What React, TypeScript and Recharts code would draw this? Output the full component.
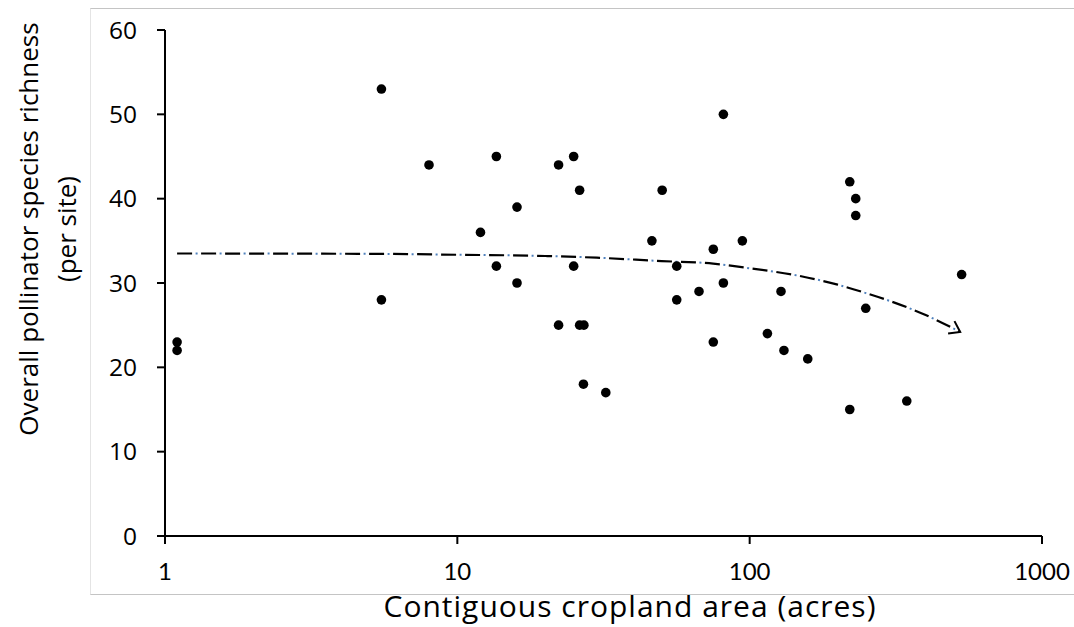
import React from 'react';
import { ComposedChart, Scatter, Line, XAxis, YAxis } from 'recharts';

// Observed sites: contiguous cropland area (acres) and richness (per site)
const areaAcres = [1.1, 1.1, 5.5, 5.5, 8.0, 12.0, 13.6, 13.6, 16.0, 16.0, 22.2, 22.2, 25.0, 25.0, 26.2, 26.2, 27.1, 27.0, 32.2, 46.3, 50.2, 56.3, 56.3, 67.1, 75.1, 75.1, 81.3, 81.3, 94.4, 115, 128, 131, 158, 220, 220, 230.6, 230.6, 249.5, 344.7, 531];
const richness = [23, 22, 53, 28, 44, 36, 45, 32, 39, 30, 44, 25, 45, 32, 41, 25, 25, 18, 17, 35, 41, 32, 28, 29, 34, 23, 50, 30, 35, 24, 29, 22, 21, 42, 15, 40, 38, 27, 16, 31];

// Trend line
const trendArea = [1.1, 5.5, 10, 20, 30, 50, 75, 100, 150, 200, 250, 300, 400, 525];
const trendRichness = [33.5, 33.45, 33.35, 33.2, 33.0, 32.6, 32.3, 31.75, 30.8, 29.8, 28.8, 27.9, 26.2, 24.2];

const xTicks = [1, 10, 100, 1000];
const yTicks = [0, 10, 20, 30, 40, 50, 60];

const xTitle = 'Contiguous cropland area (acres)';
const yTitleLine1 = 'Overall pollinator species richness';
const yTitleLine2 = '(per site)';

const points = areaAcres.map((x, i) => ({ x, y: richness[i] }));
const trend = trendArea.map((x, i) => ({ x, y: trendRichness[i] }));

const Dot = (props: any) => <circle cx={props.cx} cy={props.cy} r={4.8} fill="#000" />;

const XTitle = () => (
  <text x={630} y={617} textAnchor="middle" fontFamily="'Open Sans', sans-serif" fontSize={30} letterSpacing={1} fill="#000">
    {xTitle}
  </text>
);

const YTitle = () => (
  <g>
    <text transform="translate(38,229) rotate(-90)" textAnchor="middle" fontFamily="'Open Sans', sans-serif" fontSize={26} fill="#000">
      {yTitleLine1}
    </text>
    <text transform="translate(76,229) rotate(-90)" textAnchor="middle" fontFamily="'Open Sans', sans-serif" fontSize={26} fill="#000">
      {yTitleLine2}
    </text>
  </g>
);

export default function App() {
  return (
    <div style={{ position: 'absolute', left: 0, top: 0, width: 1074, height: 627, background: '#fff', overflow: 'hidden' }}>
      <div
        style={{
          position: 'absolute',
          left: 90,
          top: 8,
          width: 984,
          height: 587,
          boxSizing: 'border-box',
          borderTop: '1px solid #c4c4c4',
          borderLeft: '1px solid #e4e4e4',
          borderBottom: '1px solid #c4c4c4',
        }}
      />
      <svg width={0} height={0} style={{ position: 'absolute' }}>
        <defs>
          <marker id="arrowHead" markerUnits="userSpaceOnUse" markerWidth={16} markerHeight={16} refX={11} refY={7} orient="auto" style={{ overflow: 'visible' }}>
            <path d="M1,0 L11,7 L1,14" fill="none" stroke="#000" strokeWidth={2} strokeDasharray="none" />
          </marker>
        </defs>
      </svg>
      <div style={{ position: 'absolute', left: 0, top: 0 }}>
        <ComposedChart width={1074} height={627} margin={{ top: 30, right: 32, left: 105, bottom: 51 }}>
          <XAxis
            dataKey="x"
            type="number"
            scale="log"
            domain={[1, 1000]}
            ticks={xTicks}
            allowDataOverflow
            height={40}
            tickSize={8}
            tickMargin={19}
            axisLine={{ stroke: '#000', strokeWidth: 2 }}
            tickLine={{ stroke: '#000', strokeWidth: 2 }}
            tick={{ fill: '#000', fontSize: 24, fontFamily: 'Lato, sans-serif' }}
            label={<XTitle />}
          />
          <YAxis
            dataKey="y"
            type="number"
            domain={[0, 60]}
            ticks={yTicks}
            width={60}
            tickSize={8}
            tickMargin={20}
            axisLine={{ stroke: '#000', strokeWidth: 2 }}
            tickLine={{ stroke: '#000', strokeWidth: 2 }}
            tick={{ fill: '#000', fontSize: 24.5, fontFamily: "'Open Sans', sans-serif" }}
            label={<YTitle />}
          />
          <Scatter data={points} dataKey="y" fill="#000" shape={Dot} isAnimationActive={false} />
          <Line
            data={trend}
            dataKey="y"
            type="monotone"
            stroke="#000"
            strokeWidth={2.2}
            strokeDasharray="15 9"
            dot={false}
            activeDot={false}
            markerEnd="url(#arrowHead)"
            isAnimationActive={false}
          />
          <Line
            data={trend}
            dataKey="y"
            type="monotone"
            stroke="#4f81bd"
            strokeWidth={2}
            strokeDasharray="0 18.5 2 3.5"
            dot={false}
            activeDot={false}
            isAnimationActive={false}
          />
        </ComposedChart>
      </div>
    </div>
  );
}
